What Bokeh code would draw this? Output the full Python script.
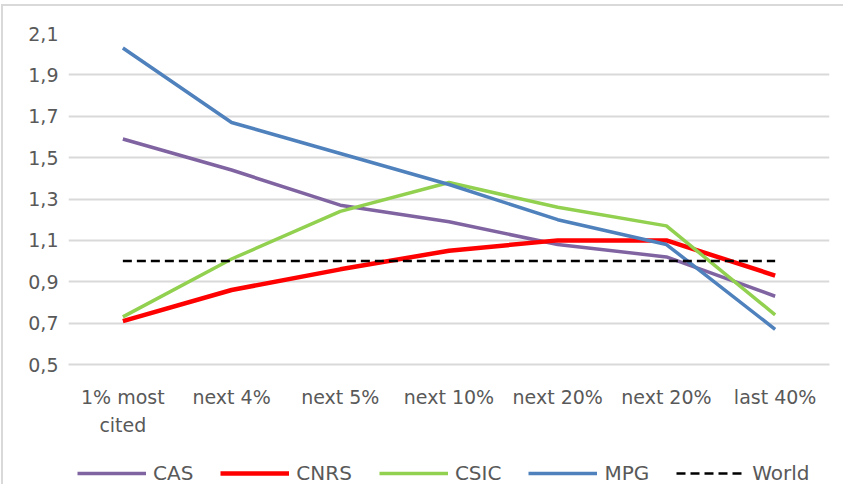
from bokeh.plotting import figure
from bokeh.layouts import column
from bokeh.models import FixedTicker, Legend, LegendItem, Range1d
from bokeh.embed import file_html
from bokeh.resources import INLINE

categories = ["1% most\ncited", "next 4%", "next 5%", "next 10%", "next 20%", "next 20%", "last 40%"]
series_names = ["CAS", "CNRS", "CSIC", "MPG", "World"]
cas = [1.59, 1.44, 1.27, 1.19, 1.08, 1.02, 0.83]
cnrs = [0.71, 0.86, 0.96, 1.05, 1.10, 1.10, 0.93]
csic = [0.73, 1.01, 1.24, 1.38, 1.26, 1.17, 0.74]
mpg = [2.03, 1.67, 1.52, 1.37, 1.20, 1.08, 0.67]
world = [1.0, 1.0, 1.0, 1.0, 1.0, 1.0, 1.0]
y_ticks = [0.5, 0.7, 0.9, 1.1, 1.3, 1.5, 1.7, 1.9, 2.1]
y_tick_labels = ["0,5", "0,7", "0,9", "1,1", "1,3", "1,5", "1,7", "1,9", "2,1"]

FONT = "DejaVu Sans"
FS = "19px"
TXT = "#595959"
GRID = "#d9d9d9"

xs = list(range(1, len(categories) + 1))
series = [cas, cnrs, csic, mpg, world]
styles = [dict(line_color="#8064A2", line_width=3.5),
          dict(line_color="#FF0000", line_width=4.5),
          dict(line_color="#92D050", line_width=3.5),
          dict(line_color="#4F81BD", line_width=3.5),
          dict(line_color="black", line_width=2.5, line_dash="9 5")]

# main chart
p = figure(width=840, height=434, output_backend="svg", toolbar_location=None,
           x_range=Range1d(0.5, len(categories) + 0.5), y_range=Range1d(0.5, 2.1),
           min_border_left=65, min_border_right=14, min_border_top=27, min_border_bottom=76)
p.outline_line_color = None

p.xaxis.ticker = FixedTicker(ticks=xs)
p.xaxis.major_label_overrides = {x: c for x, c in zip(xs, categories)}
p.yaxis.ticker = FixedTicker(ticks=y_ticks)
p.yaxis.major_label_overrides = {t: l for t, l in zip(y_ticks, y_tick_labels)}

for ax in (p.xaxis[0], p.yaxis[0]):
    ax.major_tick_line_color = None
    ax.minor_tick_line_color = None
    ax.major_tick_out = 0
    ax.major_tick_in = 0
    ax.major_label_text_font = FONT
    ax.major_label_text_font_size = FS
    ax.major_label_text_color = TXT
p.xaxis.major_label_text_line_height = 1.3
p.xaxis.axis_line_color = GRID
p.xaxis.axis_line_width = 2
p.yaxis.axis_line_color = None
p.xaxis.major_label_standoff = 21
p.yaxis.major_label_standoff = 10
p.xgrid.grid_line_color = None
p.ygrid.ticker = FixedTicker(ticks=y_ticks)
p.ygrid.grid_line_color = GRID
p.ygrid.grid_line_width = 2

for ys, st in zip(series, styles):
    p.line(xs, ys, **st)

# legend strip (same data, drawn out of view so only the legend shows)
q = figure(width=840, height=44, output_backend="svg", toolbar_location=None,
           x_range=Range1d(100, 101), y_range=Range1d(100, 101),
           x_axis_type=None, y_axis_type=None,
           min_border_left=0, min_border_right=0, min_border_top=0, min_border_bottom=0)
q.outline_line_color = None
q.xgrid.grid_line_color = None
q.ygrid.grid_line_color = None
items = []
for name, ys, st in zip(series_names, series, styles):
    r = q.line(xs, ys, **st)
    items.append(LegendItem(label=name, renderers=[r]))
legend = Legend(items=items, orientation="horizontal", location=(9, -1),
                glyph_width=69, glyph_height=20, label_standoff=7, spacing=27,
                label_text_font=FONT, label_text_font_size="20px", label_text_color=TXT,
                border_line_color=None, background_fill_alpha=0, padding=0, margin=0)
q.add_layout(legend, "center")

layout = column(p, q, spacing=0)
layout.styles = {"margin-left": "1px", "margin-top": "4px", "box-sizing": "content-box",
                 "border-left": "2px solid #d9d9d9", "border-top": "2px solid #d9d9d9"}
open("out.html", "w").write(file_html(layout, INLINE))
